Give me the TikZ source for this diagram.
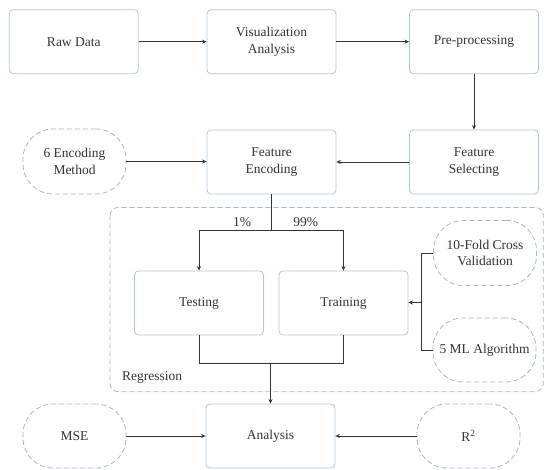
\documentclass[tikz,border=0pt]{standalone}
\usepackage{fontspec}
\setmainfont{Liberation Serif}
\usetikzlibrary{arrows.meta}
\definecolor{boxc}{HTML}{AFC6DC}
\definecolor{dashc}{HTML}{A3B6CB}
\definecolor{txtc}{HTML}{333333}
\definecolor{linec}{HTML}{333333}
\tikzset{
  every node/.style={font=\fontsize{13.5}{16.7}\selectfont, text=txtc, align=center},
  procbox/.style={draw=boxc, line width=0.8pt, rounded corners=4pt, minimum width=129pt, minimum height=64pt, inner sep=0pt},
  ovalbox/.style={draw=dashc, line width=0.8pt, dash pattern=on 5pt off 3pt, rounded corners=30pt, minimum width=103pt, minimum height=65pt, inner sep=0pt},
  conn/.style={draw=linec, line width=0.8pt},
  arr/.style={conn, -{Stealth[length=4.5pt,width=4pt]}},
  lbl/.style={font=\fontsize{13.5}{16}\selectfont, inner sep=0pt}
}
\begin{document}
\begin{tikzpicture}[x=1pt,y=-1pt]
\useasboundingbox (0,0) rectangle (544,470);
% regression region
\draw[draw=dashc, line width=0.8pt, dash pattern=on 5pt off 3pt, rounded corners=8pt] (110,207.5) rectangle (543.3,391.7);
\node[lbl, anchor=west] (reg) at (122,377.5) {Regression};
% nodes
\node[procbox] (raw) at (73.8,41.7) {Raw Data};
\node[procbox] (vis) at (271.5,41.7) {Visualization\\Analysis};
\node[procbox] (pre) at (474,41.7) {Pre-processing};
\node[procbox] (fe) at (271.5,162) {Feature\\Encoding};
\node[procbox] (fs) at (474,162) {Feature\\Selecting};
\node[ovalbox] (enc) at (74.5,161.5) {6 Encoding\\Method};
\node[procbox] (test) at (199,303) {Testing};
\node[procbox] (train) at (343.5,303) {Training};
\node[ovalbox] (cv) at (485,253) {10-Fold Cross\\Validation};
\node[ovalbox, minimum height=64pt] (ml) at (484.5,350) {5 ML Algorithm};
\node[procbox] (ana) at (270.5,436) {Analysis};
\node[ovalbox, minimum height=64pt] (mse) at (74.5,436) {MSE};
\node[ovalbox, minimum height=64pt] (r2) at (468.5,436) {R\textsuperscript{2}};
% coordinates
\coordinate (split) at (271,230.7);
\coordinate (sl) at (199,230.7);
\coordinate (sr) at (343.5,230.7);
\coordinate (jl) at (199,363);
\coordinate (jr) at (343.5,363);
\coordinate (jm) at (270.5,363);
\coordinate (bt) at (421.5,253.3);
\coordinate (bb) at (421.5,350);
\coordinate (bm) at (421.5,302.5);
% connectors
\draw[arr] (raw.east) -- (vis.west);
\draw[arr] (vis.east) -- (pre.west);
\draw[arr] (pre.south) -- (fs.north);
\draw[arr] (fs.west) -- (fe.east);
\draw[arr] (enc.east) -- (fe.west |- enc.east);
\draw[conn] (fe.south -| split) -- (split);
\draw[arr] (split) -- (sl) -- (test.north);
\draw[arr] (split) -- (sr) -- (train.north);
\node[lbl, anchor=base] (p1) at (242,227) {1\%};
\node[lbl, anchor=base] (p99) at (305.7,227) {99\%};
\draw[conn] (test.south) -- (jl) -- (jr) -- (train.south);
\draw[arr] (jm) -- (ana.north);
\draw[conn] (cv.west |- bt) -- (bt) -- (bb) -- (ml.west);
\draw[arr] (bm) -- (train.east |- bm);
\draw[arr] (mse.east) -- (ana.west);
\draw[arr] (r2.west) -- (ana.east);
\end{tikzpicture}
\end{document}
